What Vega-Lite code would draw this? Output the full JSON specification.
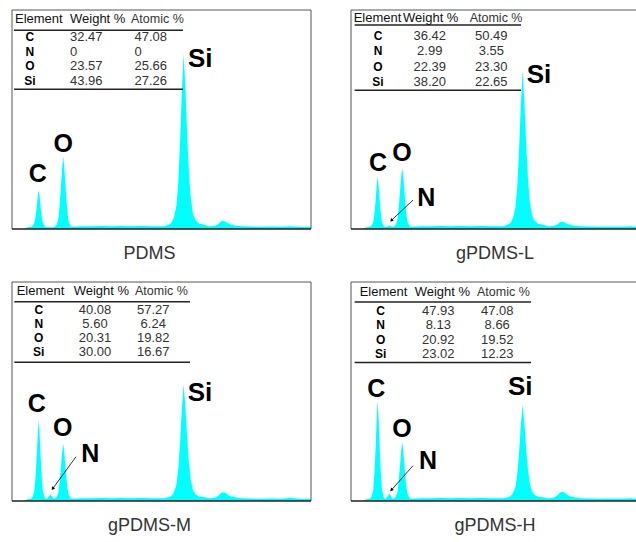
{
 "$schema": "https://vega.github.io/schema/vega-lite/v6.json",
 "padding": {"left": 11, "top": 9, "right": 0, "bottom": 0},
 "background": "white",
 "config": {
  "view": {"stroke": null},
  "axis": {"disable": true},
  "title": {"orient": "bottom", "anchor": "middle", "font": "Liberation Sans", "fontSize": 18, "fontWeight": "normal", "color": "#333333", "offset": 15},
  "text": {"font": "Liberation Sans"}
 },
 "datasets": {
  "spec": [
   {"e": 0.12, "pdms": 0.2, "l": 0.2, "m": 0.2, "h": 0.2},
   {"e": 0.15, "pdms": 0.7, "l": 0.7, "m": 0.7, "h": 0.7},
   {"e": 0.17, "pdms": 0.9, "l": 0.9, "m": 0.9, "h": 0.9},
   {"e": 0.19, "pdms": 1.0, "l": 1.0, "m": 1.0, "h": 1.0},
   {"e": 0.205, "pdms": 1.3, "l": 1.5, "m": 1.7, "h": 1.9},
   {"e": 0.223, "pdms": 2.5, "l": 3.1, "m": 4.2, "h": 5.0},
   {"e": 0.235, "pdms": 5.3, "l": 7.0, "m": 10.3, "h": 12.6},
   {"e": 0.247, "pdms": 9.7, "l": 12.9, "m": 19.6, "h": 24.2},
   {"e": 0.259, "pdms": 15.2, "l": 20.5, "m": 31.4, "h": 39.0},
   {"e": 0.267, "pdms": 17.7, "l": 23.9, "m": 36.8, "h": 45.7},
   {"e": 0.277, "pdms": 14.9, "l": 20.0, "m": 30.7, "h": 38.1},
   {"e": 0.286, "pdms": 10.5, "l": 14.1, "m": 21.4, "h": 26.5},
   {"e": 0.298, "pdms": 5.7, "l": 7.4, "m": 11.0, "h": 13.5},
   {"e": 0.310, "pdms": 2.7, "l": 3.3, "m": 4.6, "h": 5.5},
   {"e": 0.327, "pdms": 1.2, "l": 1.4, "m": 1.6, "h": 1.8},
   {"e": 0.340, "pdms": 0.8, "l": 0.8, "m": 0.9, "h": 0.9},
   {"e": 0.355, "pdms": 0.8, "l": 1.0, "m": 1.2, "h": 1.3},
   {"e": 0.37, "pdms": 0.8, "l": 1.3, "m": 2.1, "h": 2.3},
   {"e": 0.385, "pdms": 0.8, "l": 1.6, "m": 3.0, "h": 3.3},
   {"e": 0.40, "pdms": 0.8, "l": 1.3, "m": 2.1, "h": 2.3},
   {"e": 0.413, "pdms": 0.8, "l": 1.0, "m": 1.2, "h": 1.3},
   {"e": 0.424, "pdms": 0.9, "l": 0.9, "m": 1.0, "h": 1.0},
   {"e": 0.433, "pdms": 1.3, "l": 1.3, "m": 1.3, "h": 1.3},
   {"e": 0.443, "pdms": 1.6, "l": 1.5, "m": 1.5, "h": 1.5},
   {"e": 0.464, "pdms": 4.2, "l": 3.7, "m": 3.5, "h": 3.6},
   {"e": 0.478, "pdms": 10.6, "l": 9.1, "m": 8.5, "h": 8.7},
   {"e": 0.492, "pdms": 20.2, "l": 17.2, "m": 16.0, "h": 16.5},
   {"e": 0.504, "pdms": 28.5, "l": 24.2, "m": 22.5, "h": 23.2},
   {"e": 0.514, "pdms": 33.0, "l": 28.0, "m": 26.0, "h": 26.8},
   {"e": 0.524, "pdms": 28.5, "l": 24.2, "m": 22.5, "h": 23.2},
   {"e": 0.536, "pdms": 20.2, "l": 17.2, "m": 16.0, "h": 16.5},
   {"e": 0.550, "pdms": 10.6, "l": 9.1, "m": 8.5, "h": 8.7},
   {"e": 0.564, "pdms": 4.2, "l": 3.7, "m": 3.5, "h": 3.6},
   {"e": 0.587, "pdms": 1.3, "l": 1.3, "m": 1.3, "h": 1.3},
   {"e": 0.61, "pdms": 1.0, "l": 1.0, "m": 1.0, "h": 1.0},
   {"e": 0.65, "pdms": 1.1, "l": 1.1, "m": 1.1, "h": 1.1},
   {"e": 0.70, "pdms": 1.2, "l": 1.2, "m": 1.2, "h": 1.2},
   {"e": 0.80, "pdms": 1.3, "l": 1.3, "m": 1.3, "h": 1.3},
   {"e": 0.90, "pdms": 1.4, "l": 1.4, "m": 1.4, "h": 1.4},
   {"e": 1.00, "pdms": 1.3, "l": 1.3, "m": 1.3, "h": 1.3},
   {"e": 1.10, "pdms": 1.4, "l": 1.4, "m": 1.4, "h": 1.4},
   {"e": 1.20, "pdms": 1.3, "l": 1.3, "m": 1.3, "h": 1.3},
   {"e": 1.30, "pdms": 1.4, "l": 1.4, "m": 1.4, "h": 1.4},
   {"e": 1.40, "pdms": 1.3, "l": 1.3, "m": 1.3, "h": 1.3},
   {"e": 1.50, "pdms": 1.3, "l": 1.3, "m": 1.3, "h": 1.3},
   {"e": 1.53, "pdms": 1.3, "l": 1.3, "m": 1.3, "h": 1.3},
   {"e": 1.576, "pdms": 2.1, "l": 2.0, "m": 1.8, "h": 1.7},
   {"e": 1.600, "pdms": 2.9, "l": 2.7, "m": 2.3, "h": 2.2},
   {"e": 1.624, "pdms": 5.2, "l": 4.9, "m": 3.9, "h": 3.4},
   {"e": 1.650, "pdms": 10.7, "l": 9.8, "m": 7.5, "h": 6.4},
   {"e": 1.668, "pdms": 21.0, "l": 19.1, "m": 14.3, "h": 12.0},
   {"e": 1.686, "pdms": 39.1, "l": 35.5, "m": 26.2, "h": 21.8},
   {"e": 1.704, "pdms": 62.7, "l": 56.8, "m": 41.8, "h": 34.6},
   {"e": 1.722, "pdms": 80.0, "l": 72.5, "m": 53.2, "h": 44.0},
   {"e": 1.740, "pdms": 64.3, "l": 58.3, "m": 42.8, "h": 35.5},
   {"e": 1.758, "pdms": 42.2, "l": 38.3, "m": 28.3, "h": 23.5},
   {"e": 1.776, "pdms": 24.9, "l": 22.7, "m": 16.9, "h": 14.1},
   {"e": 1.794, "pdms": 13.9, "l": 12.7, "m": 9.6, "h": 8.1},
   {"e": 1.816, "pdms": 6.8, "l": 6.3, "m": 4.9, "h": 4.3},
   {"e": 1.840, "pdms": 4.1, "l": 3.8, "m": 3.1, "h": 2.8},
   {"e": 1.876, "pdms": 2.5, "l": 2.4, "m": 2.1, "h": 1.9},
   {"e": 1.936, "pdms": 1.8, "l": 1.8, "m": 1.7, "h": 1.6},
   {"e": 1.97, "pdms": 1.2, "l": 1.2, "m": 1.2, "h": 1.2},
   {"e": 2.00, "pdms": 1.3, "l": 1.3, "m": 1.3, "h": 1.3},
   {"e": 2.04, "pdms": 1.5, "l": 1.5, "m": 1.6, "h": 1.6},
   {"e": 2.07, "pdms": 2.3, "l": 2.1, "m": 2.4, "h": 2.5},
   {"e": 2.10, "pdms": 3.5, "l": 3.1, "m": 3.7, "h": 3.9},
   {"e": 2.12, "pdms": 3.7, "l": 3.3, "m": 4.0, "h": 4.2},
   {"e": 2.14, "pdms": 3.3, "l": 3.0, "m": 3.6, "h": 3.8},
   {"e": 2.17, "pdms": 2.5, "l": 2.3, "m": 2.7, "h": 2.8},
   {"e": 2.20, "pdms": 1.9, "l": 1.8, "m": 2.0, "h": 2.0},
   {"e": 2.25, "pdms": 1.5, "l": 1.5, "m": 1.6, "h": 1.6},
   {"e": 2.30, "pdms": 1.2, "l": 1.2, "m": 1.2, "h": 1.2},
   {"e": 2.40, "pdms": 1.1, "l": 1.1, "m": 1.1, "h": 1.1},
   {"e": 2.50, "pdms": 1.0, "l": 1.0, "m": 1.0, "h": 1.0},
   {"e": 2.60, "pdms": 1.1, "l": 1.1, "m": 1.1, "h": 1.1},
   {"e": 2.70, "pdms": 1.0, "l": 1.0, "m": 1.0, "h": 1.0},
   {"e": 2.80, "pdms": 1.2, "l": 1.2, "m": 1.5, "h": 1.2},
   {"e": 2.90, "pdms": 0.9, "l": 0.9, "m": 0.9, "h": 0.9},
   {"e": 3.00, "pdms": 1.0, "l": 1.0, "m": 1.0, "h": 1.0}
  ],
  "tbl": [
   {"sample": "PDMS", "element": "C", "weight": "32.47", "atomic": "47.08"},
   {"sample": "PDMS", "element": "N", "weight": "0", "atomic": "0"},
   {"sample": "PDMS", "element": "O", "weight": "23.57", "atomic": "25.66"},
   {"sample": "PDMS", "element": "Si", "weight": "43.96", "atomic": "27.26"},
   {"sample": "gPDMS-L", "element": "C", "weight": "36.42", "atomic": "50.49"},
   {"sample": "gPDMS-L", "element": "N", "weight": "2.99", "atomic": "3.55"},
   {"sample": "gPDMS-L", "element": "O", "weight": "22.39", "atomic": "23.30"},
   {"sample": "gPDMS-L", "element": "Si", "weight": "38.20", "atomic": "22.65"},
   {"sample": "gPDMS-M", "element": "C", "weight": "40.08", "atomic": "57.27"},
   {"sample": "gPDMS-M", "element": "N", "weight": "5.60", "atomic": "6.24"},
   {"sample": "gPDMS-M", "element": "O", "weight": "20.31", "atomic": "19.82"},
   {"sample": "gPDMS-M", "element": "Si", "weight": "30.00", "atomic": "16.67"},
   {"sample": "gPDMS-H", "element": "C", "weight": "47.93", "atomic": "47.08"},
   {"sample": "gPDMS-H", "element": "N", "weight": "8.13", "atomic": "8.66"},
   {"sample": "gPDMS-H", "element": "O", "weight": "20.92", "atomic": "19.52"},
   {"sample": "gPDMS-H", "element": "Si", "weight": "23.02", "atomic": "12.23"}
  ]
 },
 "spacing": 18,
 "vconcat": [
  {"hconcat": [
   {
    "width": 299, "height": 219,
    "title": {"text": "PDMS", "dx": -12},
    "data": {"values": [{}]},
    "resolve": {"scale": {"y": "independent"}},
    "layer": [
     {"layer": [
      {"data": {"name": "spec"}, "mark": {"type": "area", "color": "#00FFFF", "clip": true},
       "encoding": {"x": {"field": "e", "type": "quantitative", "scale": {"domain": [0, 3], "nice": false, "zero": false}, "axis": null},
                    "y": {"field": "pdms", "type": "quantitative", "scale": {"domain": [0, 100], "nice": false}, "axis": null}}},
      {"mark": {"type": "rule", "color": "#555555", "strokeWidth": 1}, "encoding": {"y": {"datum": 100}}},
      {"mark": {"type": "rule", "color": "#555555", "strokeWidth": 1}, "encoding": {"x": {"datum": 0}}},
      {"mark": {"type": "rule", "color": "#555555", "strokeWidth": 1}, "encoding": {"x": {"datum": 3}}},
      {"mark": {"type": "rule", "color": "#222222", "strokeWidth": 1.5}, "encoding": {"y": {"datum": 0}}},
      {"mark": {"type": "rule", "color": "#222222", "strokeWidth": 1.5}, "encoding": {"x": {"datum": 0.02}, "x2": {"datum": 1.716}, "y": {"datum": 90.7}}},
      {"mark": {"type": "rule", "color": "#222222", "strokeWidth": 1.5}, "encoding": {"x": {"datum": 0.02}, "x2": {"datum": 1.716}, "y": {"datum": 63.8}}},
      {"mark": {"type": "text", "text": "Element", "fontSize": 13, "color": "#111111", "align": "left", "baseline": "middle"}, "encoding": {"x": {"datum": 0.03}, "y": {"datum": 95.8}}},
      {"mark": {"type": "text", "text": "Weight %", "fontSize": 13, "color": "#111111", "align": "left", "baseline": "middle"}, "encoding": {"x": {"datum": 0.582}, "y": {"datum": 95.8}}},
      {"mark": {"type": "text", "text": "Atomic %", "fontSize": 12.5, "color": "#333333", "align": "left", "baseline": "middle"}, "encoding": {"x": {"datum": 1.194}, "y": {"datum": 95.8}}},
      {"mark": {"type": "text", "text": "C", "fontSize": 25, "fontWeight": "bold", "color": "#000000", "align": "center", "baseline": "middle"}, "encoding": {"x": {"datum": 0.258}, "y": {"datum": 25.3}}},
      {"mark": {"type": "text", "text": "O", "fontSize": 25, "fontWeight": "bold", "color": "#000000", "align": "center", "baseline": "middle"}, "encoding": {"x": {"datum": 0.515}, "y": {"datum": 38.7}}},
      {"mark": {"type": "text", "text": "Si", "fontSize": 26, "fontWeight": "bold", "color": "#000000", "align": "center", "baseline": "middle"}, "encoding": {"x": {"datum": 1.889}, "y": {"datum": 77.8}}}
     ]},
     {"data": {"name": "tbl"},
      "transform": [{"filter": "datum.sample == 'PDMS'"}],
      "encoding": {"y": {"field": "element", "type": "ordinal", "scale": {"type": "point", "domain": ["C", "N", "O", "Si"], "range": [27, 71], "padding": 0}, "axis": null}},
      "layer": [
       {"mark": {"type": "text", "fontSize": 12, "fontWeight": "bold", "color": "#000000", "align": "center", "baseline": "middle"}, "encoding": {"x": {"datum": 0.18}, "text": {"field": "element"}}},
       {"mark": {"type": "text", "fontSize": 13, "color": "#333333", "align": "left", "baseline": "middle"}, "encoding": {"x": {"datum": 0.582}, "text": {"field": "weight"}}},
       {"mark": {"type": "text", "fontSize": 13, "color": "#333333", "align": "left", "baseline": "middle"}, "encoding": {"x": {"datum": 1.229}, "text": {"field": "atomic"}}}
      ]}
    ]
   },
   {
    "width": 288, "height": 219,
    "title": {"text": "gPDMS-L"},
    "data": {"values": [{}]},
    "resolve": {"scale": {"y": "independent"}},
    "layer": [
     {"layer": [
      {"data": {"name": "spec"}, "mark": {"type": "area", "color": "#00FFFF", "clip": true},
       "encoding": {"x": {"field": "e", "type": "quantitative", "scale": {"domain": [0, 2.89], "nice": false, "zero": false}, "axis": null},
                    "y": {"field": "l", "type": "quantitative", "scale": {"domain": [0, 100], "nice": false}, "axis": null}}},
      {"mark": {"type": "rule", "color": "#555555", "strokeWidth": 1}, "encoding": {"y": {"datum": 100}}},
      {"mark": {"type": "rule", "color": "#555555", "strokeWidth": 1}, "encoding": {"x": {"datum": 0}}},
      {"mark": {"type": "rule", "color": "#222222", "strokeWidth": 1.5}, "encoding": {"y": {"datum": 0}}},
      {"mark": {"type": "rule", "color": "#222222", "strokeWidth": 1.5}, "encoding": {"x": {"datum": 0.037}, "x2": {"datum": 1.706}, "y": {"datum": 93.2}}},
      {"mark": {"type": "rule", "color": "#222222", "strokeWidth": 1.5}, "encoding": {"x": {"datum": 0.037}, "x2": {"datum": 1.706}, "y": {"datum": 63.3}}},
      {"mark": {"type": "text", "text": "Element", "fontSize": 13, "color": "#111111", "align": "left", "baseline": "middle"}, "encoding": {"x": {"datum": 0.027}, "y": {"datum": 96.2}}},
      {"mark": {"type": "text", "text": "Weight %", "fontSize": 13, "color": "#111111", "align": "left", "baseline": "middle"}, "encoding": {"x": {"datum": 0.522}, "y": {"datum": 96.2}}},
      {"mark": {"type": "text", "text": "Atomic %", "fontSize": 12.5, "color": "#333333", "align": "left", "baseline": "middle"}, "encoding": {"x": {"datum": 1.191}, "y": {"datum": 96.2}}},
      {"mark": {"type": "text", "text": "C", "fontSize": 25, "fontWeight": "bold", "color": "#000000", "align": "center", "baseline": "middle"}, "encoding": {"x": {"datum": 0.271}, "y": {"datum": 30.3}}},
      {"mark": {"type": "text", "text": "O", "fontSize": 25, "fontWeight": "bold", "color": "#000000", "align": "center", "baseline": "middle"}, "encoding": {"x": {"datum": 0.512}, "y": {"datum": 34.8}}},
      {"mark": {"type": "text", "text": "Si", "fontSize": 26, "fontWeight": "bold", "color": "#000000", "align": "center", "baseline": "middle"}, "encoding": {"x": {"datum": 1.886}, "y": {"datum": 70.3}}},
      {"mark": {"type": "text", "text": "N", "fontSize": 25, "fontWeight": "bold", "color": "#000000", "align": "center", "baseline": "middle"}, "encoding": {"x": {"datum": 0.755}, "y": {"datum": 14.3}}},
      {"mark": {"type": "rule", "color": "#000000", "strokeWidth": 0.8}, "encoding": {"x": {"datum": 0.622}, "y": {"datum": 13.2}, "x2": {"datum": 0.405}, "y2": {"datum": 3.9}}},
      {"mark": {"type": "point", "shape": "triangle-down", "filled": true, "color": "#000000", "size": 14, "angle": 45, "opacity": 1}, "encoding": {"x": {"datum": 0.405}, "y": {"datum": 3.9}}}
     ]},
     {"data": {"name": "tbl"},
      "transform": [{"filter": "datum.sample == 'gPDMS-L'"}],
      "encoding": {"y": {"field": "element", "type": "ordinal", "scale": {"type": "point", "domain": ["C", "N", "O", "Si"], "range": [25.7, 72], "padding": 0}, "axis": null}},
      "layer": [
       {"mark": {"type": "text", "fontSize": 12, "fontWeight": "bold", "color": "#000000", "align": "center", "baseline": "middle"}, "encoding": {"x": {"datum": 0.271}, "text": {"field": "element"}}},
       {"mark": {"type": "text", "fontSize": 13, "color": "#333333", "align": "center", "baseline": "middle"}, "encoding": {"x": {"datum": 0.79}, "text": {"field": "weight"}}},
       {"mark": {"type": "text", "fontSize": 13, "color": "#333333", "align": "center", "baseline": "middle"}, "encoding": {"x": {"datum": 1.408}, "text": {"field": "atomic"}}}
      ]}
    ]
   }
  ], "spacing": 38},
  {"hconcat": [
   {
    "width": 299, "height": 219,
    "title": {"text": "gPDMS-M", "dx": -12},
    "data": {"values": [{}]},
    "resolve": {"scale": {"y": "independent"}},
    "layer": [
     {"layer": [
      {"data": {"name": "spec"}, "mark": {"type": "area", "color": "#00FFFF", "clip": true},
       "encoding": {"x": {"field": "e", "type": "quantitative", "scale": {"domain": [0, 3], "nice": false, "zero": false}, "axis": null},
                    "y": {"field": "m", "type": "quantitative", "scale": {"domain": [0, 100], "nice": false}, "axis": null}}},
      {"mark": {"type": "rule", "color": "#555555", "strokeWidth": 1}, "encoding": {"y": {"datum": 100}}},
      {"mark": {"type": "rule", "color": "#555555", "strokeWidth": 1}, "encoding": {"x": {"datum": 0}}},
      {"mark": {"type": "rule", "color": "#555555", "strokeWidth": 1}, "encoding": {"x": {"datum": 3}}},
      {"mark": {"type": "rule", "color": "#222222", "strokeWidth": 1.5}, "encoding": {"y": {"datum": 0}}},
      {"mark": {"type": "rule", "color": "#222222", "strokeWidth": 1.5}, "encoding": {"x": {"datum": 0.023}, "x2": {"datum": 1.786}, "y": {"datum": 91.0}}},
      {"mark": {"type": "rule", "color": "#222222", "strokeWidth": 1.5}, "encoding": {"x": {"datum": 0.023}, "x2": {"datum": 1.786}, "y": {"datum": 63.3}}},
      {"mark": {"type": "text", "text": "Element", "fontSize": 13, "color": "#111111", "align": "left", "baseline": "middle"}, "encoding": {"x": {"datum": 0.047}, "y": {"datum": 96.0}}},
      {"mark": {"type": "text", "text": "Weight %", "fontSize": 13, "color": "#111111", "align": "left", "baseline": "middle"}, "encoding": {"x": {"datum": 0.619}, "y": {"datum": 96.0}}},
      {"mark": {"type": "text", "text": "Atomic %", "fontSize": 12.5, "color": "#333333", "align": "left", "baseline": "middle"}, "encoding": {"x": {"datum": 1.234}, "y": {"datum": 96.0}}},
      {"mark": {"type": "text", "text": "C", "fontSize": 25, "fontWeight": "bold", "color": "#000000", "align": "center", "baseline": "middle"}, "encoding": {"x": {"datum": 0.248}, "y": {"datum": 44.3}}},
      {"mark": {"type": "text", "text": "O", "fontSize": 25, "fontWeight": "bold", "color": "#000000", "align": "center", "baseline": "middle"}, "encoding": {"x": {"datum": 0.509}, "y": {"datum": 33.2}}},
      {"mark": {"type": "text", "text": "Si", "fontSize": 26, "fontWeight": "bold", "color": "#000000", "align": "center", "baseline": "middle"}, "encoding": {"x": {"datum": 1.886}, "y": {"datum": 49.3}}},
      {"mark": {"type": "text", "text": "N", "fontSize": 25, "fontWeight": "bold", "color": "#000000", "align": "center", "baseline": "middle"}, "encoding": {"x": {"datum": 0.786}, "y": {"datum": 21.4}}},
      {"mark": {"type": "rule", "color": "#000000", "strokeWidth": 0.8}, "encoding": {"x": {"datum": 0.642}, "y": {"datum": 20.2}, "x2": {"datum": 0.408}, "y2": {"datum": 5.6}}},
      {"mark": {"type": "point", "shape": "triangle-down", "filled": true, "color": "#000000", "size": 14, "angle": 35, "opacity": 1}, "encoding": {"x": {"datum": 0.408}, "y": {"datum": 5.6}}}
     ]},
     {"data": {"name": "tbl"},
      "transform": [{"filter": "datum.sample == 'gPDMS-M'"}],
      "encoding": {"y": {"field": "element", "type": "ordinal", "scale": {"type": "point", "domain": ["C", "N", "O", "Si"], "range": [28, 69.7], "padding": 0}, "axis": null}},
      "layer": [
       {"mark": {"type": "text", "fontSize": 12, "fontWeight": "bold", "color": "#000000", "align": "center", "baseline": "middle"}, "encoding": {"x": {"datum": 0.268}, "text": {"field": "element"}}},
       {"mark": {"type": "text", "fontSize": 13, "color": "#333333", "align": "center", "baseline": "middle"}, "encoding": {"x": {"datum": 0.833}, "text": {"field": "weight"}}},
       {"mark": {"type": "text", "fontSize": 13, "color": "#333333", "align": "center", "baseline": "middle"}, "encoding": {"x": {"datum": 1.417}, "text": {"field": "atomic"}}}
      ]}
    ]
   },
   {
    "width": 288, "height": 219,
    "title": {"text": "gPDMS-H"},
    "data": {"values": [{}]},
    "resolve": {"scale": {"y": "independent"}},
    "layer": [
     {"layer": [
      {"data": {"name": "spec"}, "mark": {"type": "area", "color": "#00FFFF", "clip": true},
       "encoding": {"x": {"field": "e", "type": "quantitative", "scale": {"domain": [0, 2.89], "nice": false, "zero": false}, "axis": null},
                    "y": {"field": "h", "type": "quantitative", "scale": {"domain": [0, 100], "nice": false}, "axis": null}}},
      {"mark": {"type": "rule", "color": "#555555", "strokeWidth": 1}, "encoding": {"y": {"datum": 100}}},
      {"mark": {"type": "rule", "color": "#555555", "strokeWidth": 1}, "encoding": {"x": {"datum": 0}}},
      {"mark": {"type": "rule", "color": "#222222", "strokeWidth": 1.5}, "encoding": {"y": {"datum": 0}}},
      {"mark": {"type": "rule", "color": "#222222", "strokeWidth": 1.5}, "encoding": {"x": {"datum": 0.037}, "x2": {"datum": 1.806}, "y": {"datum": 90.9}}},
      {"mark": {"type": "rule", "color": "#222222", "strokeWidth": 1.5}, "encoding": {"x": {"datum": 0.037}, "x2": {"datum": 1.806}, "y": {"datum": 63.2}}},
      {"mark": {"type": "text", "text": "Element", "fontSize": 13, "color": "#111111", "align": "left", "baseline": "middle"}, "encoding": {"x": {"datum": 0.087}, "y": {"datum": 95.6}}},
      {"mark": {"type": "text", "text": "Weight %", "fontSize": 13, "color": "#111111", "align": "left", "baseline": "middle"}, "encoding": {"x": {"datum": 0.639}, "y": {"datum": 95.6}}},
      {"mark": {"type": "text", "text": "Atomic %", "fontSize": 12.5, "color": "#333333", "align": "left", "baseline": "middle"}, "encoding": {"x": {"datum": 1.264}, "y": {"datum": 95.6}}},
      {"mark": {"type": "text", "text": "C", "fontSize": 25, "fontWeight": "bold", "color": "#000000", "align": "center", "baseline": "middle"}, "encoding": {"x": {"datum": 0.254}, "y": {"datum": 51.1}}},
      {"mark": {"type": "text", "text": "O", "fontSize": 25, "fontWeight": "bold", "color": "#000000", "align": "center", "baseline": "middle"}, "encoding": {"x": {"datum": 0.512}, "y": {"datum": 32.9}}},
      {"mark": {"type": "text", "text": "Si", "fontSize": 26, "fontWeight": "bold", "color": "#000000", "align": "center", "baseline": "middle"}, "encoding": {"x": {"datum": 1.699}, "y": {"datum": 52.2}}},
      {"mark": {"type": "text", "text": "N", "fontSize": 25, "fontWeight": "bold", "color": "#000000", "align": "center", "baseline": "middle"}, "encoding": {"x": {"datum": 0.773}, "y": {"datum": 18.4}}},
      {"mark": {"type": "rule", "color": "#000000", "strokeWidth": 0.8}, "encoding": {"x": {"datum": 0.622}, "y": {"datum": 16.1}, "x2": {"datum": 0.405}, "y2": {"datum": 5.0}}},
      {"mark": {"type": "point", "shape": "triangle-down", "filled": true, "color": "#000000", "size": 14, "angle": 41, "opacity": 1}, "encoding": {"x": {"datum": 0.405}, "y": {"datum": 5.0}}}
     ]},
     {"data": {"name": "tbl"},
      "transform": [{"filter": "datum.sample == 'gPDMS-H'"}],
      "encoding": {"y": {"field": "element", "type": "ordinal", "scale": {"type": "point", "domain": ["C", "N", "O", "Si"], "range": [28.7, 72], "padding": 0}, "axis": null}},
      "layer": [
       {"mark": {"type": "text", "fontSize": 12, "fontWeight": "bold", "color": "#000000", "align": "center", "baseline": "middle"}, "encoding": {"x": {"datum": 0.298}, "text": {"field": "element"}}},
       {"mark": {"type": "text", "fontSize": 13, "color": "#333333", "align": "center", "baseline": "middle"}, "encoding": {"x": {"datum": 0.876}, "text": {"field": "weight"}}},
       {"mark": {"type": "text", "fontSize": 13, "color": "#333333", "align": "center", "baseline": "middle"}, "encoding": {"x": {"datum": 1.467}, "text": {"field": "atomic"}}}
      ]}
    ]
   }
  ], "spacing": 38}
 ]
}
